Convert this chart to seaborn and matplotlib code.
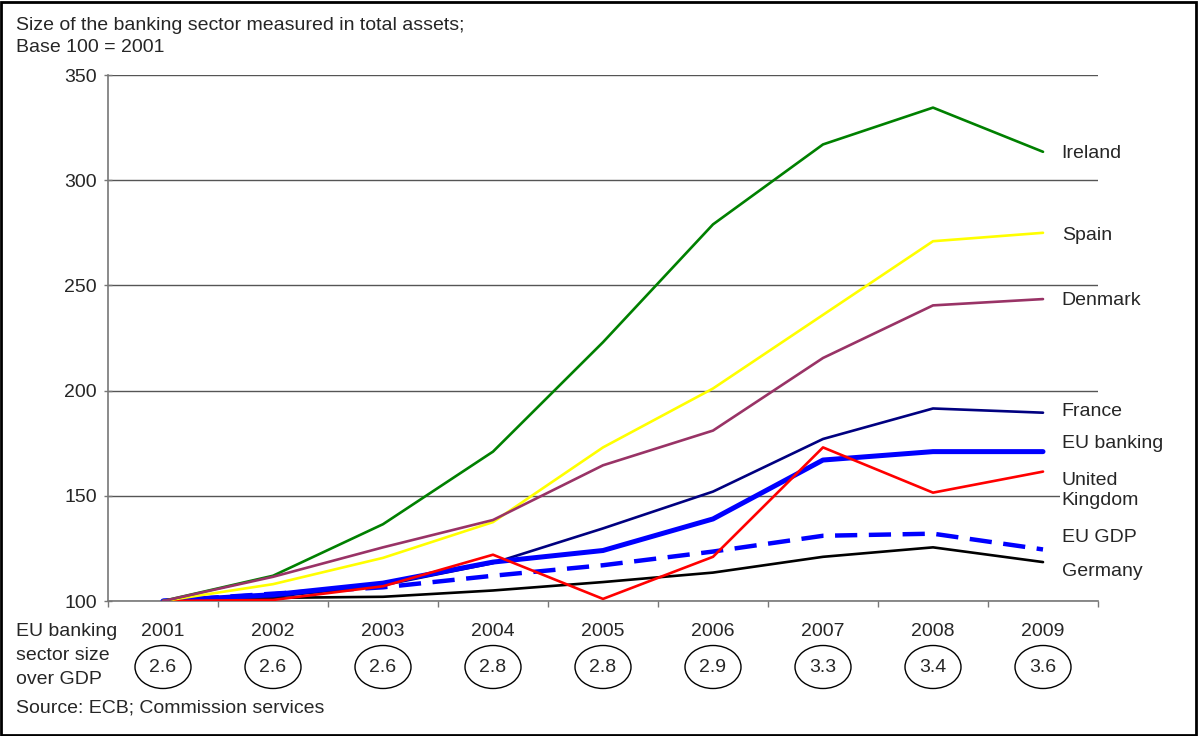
import numpy as np
import pandas as pd
import matplotlib
matplotlib.use("Agg")
import matplotlib.pyplot as plt
from matplotlib.patches import Ellipse, Rectangle
import seaborn as sns

years = [2001, 2002, 2003, 2004, 2005, 2006, 2007, 2008, 2009]
gdp_ratio = ["2.6", "2.6", "2.6", "2.8", "2.8", "2.9", "3.3", "3.4", "3.6"]

ireland = [100, 112, 136.5, 171, 223, 279, 317, 334.5, 313.5]
spain = [100, 108, 120.5, 137.5, 173, 201, 236, 271, 275]
denmark = [100, 111.5, 125.5, 138.5, 164.5, 181, 215.5, 240.5, 243.5]
france = [100, 102, 107.5, 118, 134.5, 152, 177, 191.5, 189.5]
eu_banking = [100, 103, 108.5, 118.5, 124, 139, 167, 171, 171]
uk = [100, 100.5, 107, 122, 101, 121, 173, 151.5, 161.5]
eu_gdp = [100, 103.5, 106.5, 112, 117, 123.5, 131, 132, 124.5]
germany = [100, 101.5, 102, 105, 109, 113.5, 121, 125.5, 118.5]

series_names = ["Ireland", "Spain", "Denmark", "France", "EU banking",
                "United\nKingdom", "EU GDP", "Germany"]
series_values = [ireland, spain, denmark, france, eu_banking, uk, eu_gdp, germany]

# styles
colors = ["#008000", "#FFFF00", "#993366", "#000080", "#0000FF", "#FF0000", "#0000FF", "#000000"]
widths = [1.9, 1.9, 1.9, 1.9, 3.6, 1.9, 3.2, 1.9]
zorders = [3.6, 3.5, 3.7, 3.2, 3.3, 3.4, 3.1, 3.0]
label_y = [312.8, 273.8, 242.9, 190, 174.8, 152.7, 130.4, 113.8]

df = pd.DataFrame({
    "pos": list(range(len(years))) * len(series_names),
    "value": sum(series_values, []),
    "series": np.repeat(series_names, len(years)),
})

sns.set_style("white")
plt.rcParams["font.family"] = ["Liberation Sans", "DejaVu Sans"]
FS = 14

fig = plt.figure(figsize=(11.98, 7.36), dpi=100)
ax = fig.add_axes([108 / 1198, 1 - 601 / 736, 990 / 1198, 526 / 736])

for name, col, lw, z in zip(series_names, colors, widths, zorders):
    d = df[df["series"] == name]
    ls = (0, (5, 2.6)) if name == "EU GDP" else "-"
    sns.lineplot(data=d, x="pos", y="value", ax=ax, color=col, linewidth=lw,
                 linestyle=ls, legend=False, zorder=z)

ax.set_xlim(-0.5, len(years) - 0.5)
ax.set_ylim(100, 350)
ax.set_yticks([100, 150, 200, 250, 300, 350])
ax.yaxis.grid(True, color="#555555", linewidth=1.0)
ax.set_axisbelow(True)
ax.set_xlabel("")
ax.set_ylabel("")
ax.set_xticks(np.arange(-0.5, len(years), 1.0))
ax.set_xticklabels([])
ax.tick_params(axis="x", length=4.5, color="#777777", width=1, direction="out", bottom=True)
ax.tick_params(axis="y", length=6, color="#777777", width=1, direction="inout", left=True,
               labelsize=FS, pad=5)
for s in ["top", "right"]:
    ax.spines[s].set_visible(False)
for s in ["left", "bottom"]:
    ax.spines[s].set_color("#777777")
    ax.spines[s].set_linewidth(1.2)

# end labels
for name, ly in zip(series_names, label_y):
    ax.text(8.17, ly, name, fontsize=FS, va="center", ha="left", linespacing=1.23,
            bbox=dict(facecolor="white", edgecolor="none", pad=1), zorder=4, clip_on=False)

# year labels and ratio ellipses below the axis
for i, (yr, r) in enumerate(zip(years, gdp_ratio)):
    xf = (108 + 55 + i * 110) / 1198
    fig.text(xf, 1 - 631 / 736, str(yr), fontsize=FS, ha="center", va="center")
    fig.patches.append(Ellipse((xf, 1 - 667 / 736), 56 / 1198, 43 / 736,
                               transform=fig.transFigure, facecolor="none",
                               edgecolor="black", linewidth=1.0))
    fig.text(xf, 1 - 667 / 736, r, fontsize=FS, ha="center", va="center")

for txt, yy in zip(["EU banking", "sector size", "over GDP"], [631, 656, 680]):
    fig.text(16 / 1198, 1 - yy / 736, txt, fontsize=FS, ha="left", va="center")
fig.text(16 / 1198, 1 - 708 / 736, "Source: ECB; Commission services", fontsize=FS,
         ha="left", va="center")
fig.text(16 / 1198, 1 - 25 / 736, "Size of the banking sector measured in total assets;",
         fontsize=FS, ha="left", va="center")
fig.text(16 / 1198, 1 - 47 / 736, "Base 100 = 2001", fontsize=FS, ha="left", va="center")

fig.patches.append(Rectangle((0.001, 0.002), 0.997, 0.995, transform=fig.transFigure,
                             facecolor="none", edgecolor="black", linewidth=2))

fig.savefig("out.png", dpi=100)
